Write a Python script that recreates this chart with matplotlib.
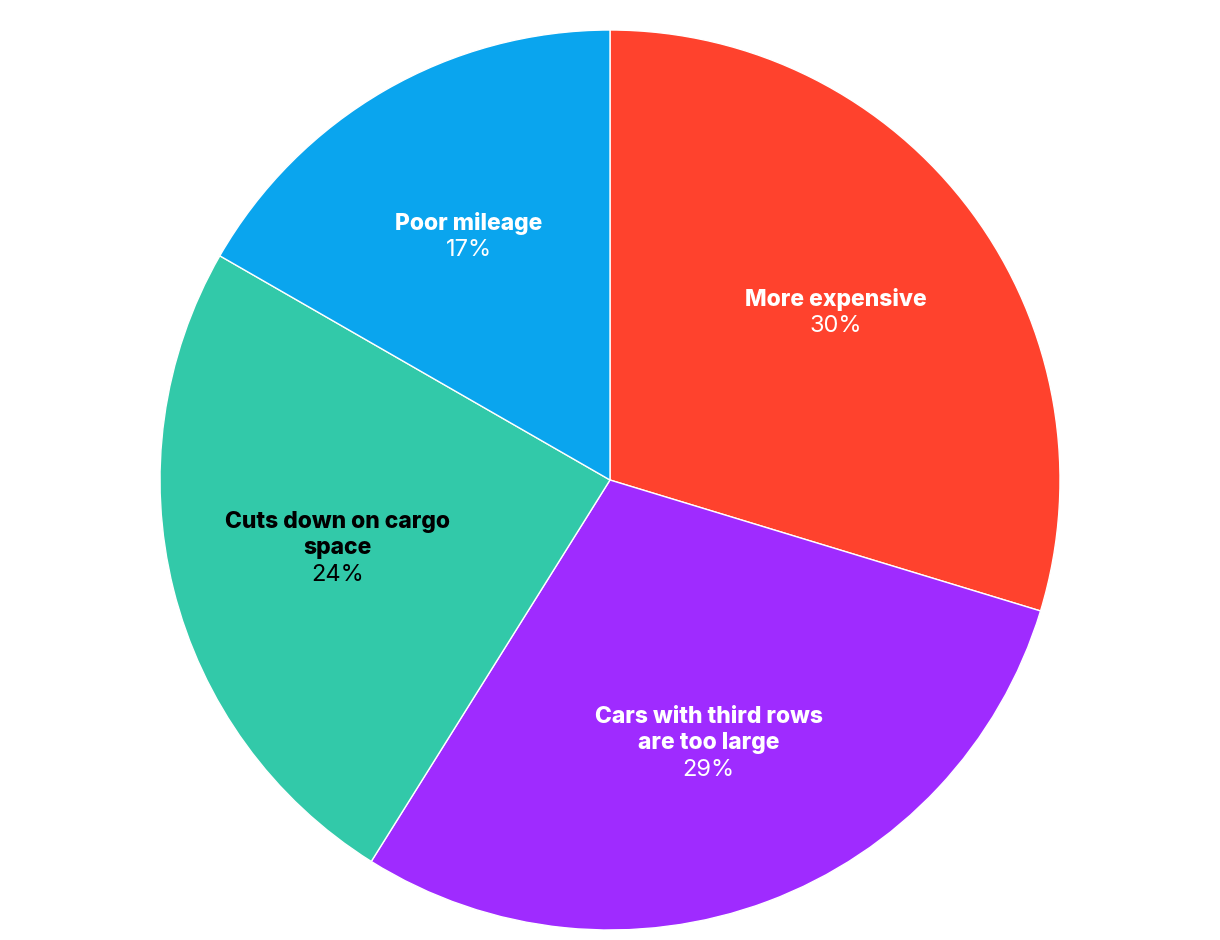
import numpy as np
import matplotlib
matplotlib.use("Agg")
import matplotlib.pyplot as plt

labels = ["More expensive", "Cars with third rows\nare too large", "Cuts down on cargo\nspace", "Poor mileage"]
values = [29.7, 29.2, 24.4, 16.7]
pct_labels = ["30%", "29%", "24%", "17%"]
colors = ["#FF422D", "#9F2BFF", "#32C9A9", "#0AA5EE"]
text_colors = ["white", "white", "black", "white"]

plt.rcParams['font.family'] = ['Inter', 'DejaVu Sans']

fig = plt.figure(figsize=(12.2, 9.4), dpi=100)
ax = fig.add_axes([160/1220, 10/940, 900/1220, 900/940])

wedges, _ = ax.pie(values, colors=colors, startangle=90, counterclock=False,
                   radius=1, center=(0, 0), frame=False,
                   wedgeprops=dict(edgecolor='white', linewidth=1.0))
ax.set_xlim(-1, 1)
ax.set_ylim(-1, 1)
ax.set_aspect('auto')
ax.axis('off')

line_pt = 26.5 * 72 / 100
r = 0.625
total = sum(values)
cum = 0
for lab, v, pct, tc in zip(labels, values, pct_labels, text_colors):
    mid = cum + v / 2
    cum += v
    ang = np.deg2rad(90 - 360 * mid / total)
    x, y = r * np.cos(ang), r * np.sin(ang)
    lines = lab.split("\n") + [pct]
    n = len(lines)
    for i, ln in enumerate(lines):
        off = ((n - 1) / 2 - i) * line_pt
        is_pct = (i == n - 1)
        ax.annotate(ln, (x, y), xytext=(0, off), textcoords='offset points',
                    ha='center', va='center',
                    fontsize=16.5 if not is_pct else 17, color=tc,
                    fontweight='normal' if is_pct else 'heavy')

fig.savefig("out.png", dpi=100)
